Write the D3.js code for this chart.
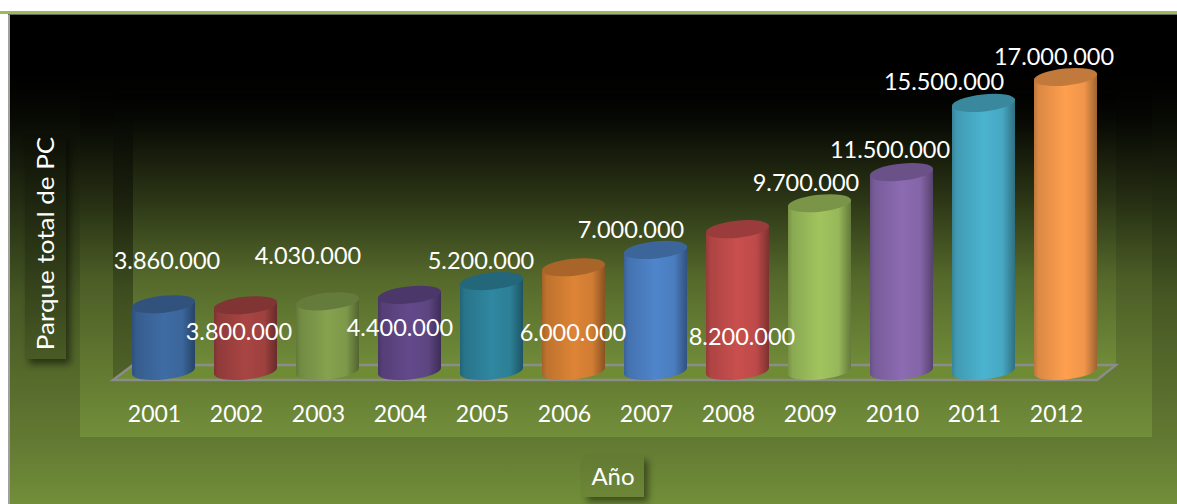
<!DOCTYPE html>
<html>
<head>
<meta charset="utf-8">
<style>
html,body{margin:0;padding:0;background:#fff;}
svg{display:block;}
text{font-family:Lato,"Noto Sans",sans-serif;fill:#fff;}
</style>
<script src="https://cdn.jsdelivr.net/npm/d3@7"></script>
</head>
<body>
<svg id="chart" width="1177" height="504"></svg>
<script>
// Parque total de PC por año
const years = ["2001","2002","2003","2004","2005","2006","2007","2008","2009","2010","2011","2012"];
const parque = [3860000,3800000,4030000,4400000,5200000,6000000,7000000,8200000,9700000,11500000,15500000,17000000];
const paleta = ["#3f6ca5","#a84543","#85a24e","#63498a","#2f87a0","#dd8436","#4f85cb","#c94f4e","#a1c45f","#8c6bb2","#4bb3cf","#ff9f4f"];
const rotuloX = [167,239,308,400,481,573,631,742,806,890,944,1054];
const rotuloY = [269,340,264,336,269,341,238,345,191,158,90,65];

const W = 1177, H = 504;
const plot = {left:80, right:1152, top:85, bottom:437};
const pared = {left:133, right:1116, top:95, bottom:365};
const baseY = 371, rx = 31.5, ry = 8.5, giro = -6;
const dy = rx * Math.sin(-giro * Math.PI / 180);

const svg = d3.select("#chart");
const defs = svg.append("defs");

// Degradados verticales a partir de un único verde, con la oscuridad por tramos
const verde = d3.rgb("#76923c");
function vGrad(id, stops){
  const g = defs.append("linearGradient").attr("id",id).attr("x1",0).attr("x2",0).attr("y1",0).attr("y2",1);
  stops.forEach(([o,k]) => g.append("stop").attr("offset",o)
    .attr("stop-color",d3.rgb(verde.r*k,verde.g*k,verde.b*k).formatHex()));
}
vGrad("fondo",[[0,0],[0.12,0],[0.215,0.07],[0.378,0.3],[0.583,0.6],[0.869,0.83],[1,0.97]]);
vGrad("panel",[[0,0.01],[0.1,0.05],[0.33,0.32],[0.55,0.64],[1,0.97]]);
vGrad("muro",[[0,0.01],[0.1,0.07],[0.39,0.37],[0.68,0.72],[1,0.95]]);
vGrad("lateral",[[0,0.01],[0.39,0.24],[0.68,0.52],[1,0.68]]);
vGrad("cajaY",[[0,0.1],[1,0.62]]);
vGrad("cajaX",[[0,0.84],[1,0.92]]);

const sombra = defs.append("filter").attr("id","sombra").attr("x","-30%").attr("y","-30%").attr("width","160%").attr("height","160%");
sombra.append("feGaussianBlur").attr("stdDeviation",3.5);

// Cuerpo cilíndrico: sombreado horizontal de cada color
paleta.forEach((c,i) => {
  const base = d3.rgb(c);
  const g = defs.append("linearGradient").attr("id","cil"+i).attr("x1",0).attr("x2",1).attr("y1",0).attr("y2",0);
  [[0,0.74],[0.07,0.86],[0.5,1],[0.8,0.94],[1,0.62]].forEach(([o,k]) => {
    g.append("stop").attr("offset",o).attr("stop-color",d3.rgb(base.r*k,base.g*k,base.b*k).formatHex());
  });
});

// Filete superior, borde izquierdo y fondo
svg.append("rect").attr("x",0).attr("y",11).attr("width",W).attr("height",3).attr("fill","#9bbb59");
svg.append("rect").attr("x",8).attr("y",14).attr("width",W-8).attr("height",1).attr("fill","#666");
svg.append("rect").attr("x",8).attr("y",15).attr("width",2).attr("height",H-15).attr("fill","#a0a0a0");
svg.append("rect").attr("x",10).attr("y",15).attr("width",W-10).attr("height",H-15).attr("fill","url(#fondo)");

// Área de trazado
svg.append("rect").attr("x",plot.left).attr("y",plot.top).attr("width",plot.right-plot.left).attr("height",plot.bottom-plot.top).attr("fill","url(#panel)");

// Paredes y suelo
svg.append("rect").attr("x",pared.left).attr("y",pared.top).attr("width",pared.right-pared.left).attr("height",pared.bottom-pared.top).attr("fill","url(#muro)");
svg.append("path").attr("d",`M113,380 L${pared.left},${pared.bottom} V${pared.top} H113 Z`).attr("fill","url(#lateral)");
svg.append("path").attr("d",`M113,380 L${pared.left},${pared.bottom} H${pared.right} L1097,380 Z`)
  .attr("fill","#6f8c35").attr("stroke","#8c8c8c").attr("stroke-width",2.4);

const x = d3.scaleBand().domain(years).range([122.5,1106.5]).paddingInner(0.2317).paddingOuter(0.1159);
const y = d3.scaleLinear().domain([0,17000000]).range([baseY,77]);

const cil = svg.append("g").selectAll("g").data(years).join("g");
cil.each(function(d,i){
  const sel = d3.select(this);
  const x0 = x(d), x1 = x0 + x.bandwidth(), cx = (x0+x1)/2;
  const top = y(parque[i]);
  const c = d3.rgb(paleta[i]);
  sel.append("path")
    .attr("d",`M${x0},${top+dy} L${x0},${baseY+dy} A${rx},${ry} ${giro} 0 0 ${x1},${baseY-dy} L${x1},${top-dy} Z`)
    .attr("fill",`url(#cil${i})`);
  sel.append("ellipse")
    .attr("cx",cx).attr("cy",top).attr("rx",rx+0.3).attr("ry",ry)
    .attr("transform",`rotate(${giro},${cx},${top})`)
    .attr("fill",d3.rgb(c.r*0.76,c.g*0.76,c.b*0.76).formatHex());
});

// Rótulos de valor
const miles = v => d3.format(",")(v).replace(/,/g,".");
svg.append("g").selectAll("text").data(parque).join("text")
  .attr("x",(d,i)=>rotuloX[i]).attr("y",(d,i)=>rotuloY[i])
  .attr("text-anchor","middle").attr("font-size",23.5).text(miles);

// Eje de años
svg.append("g").selectAll("text").data(years).join("text")
  .attr("x",d=>x(d)+x.bandwidth()/2-9).attr("y",422)
  .attr("text-anchor","middle").attr("font-size",23).text(d=>d);

// Títulos de los ejes
svg.append("rect").attr("x",29).attr("y",141).attr("width",41).attr("height",223).attr("fill","#000").attr("opacity",0.5).attr("filter","url(#sombra)");
svg.append("rect").attr("x",25).attr("y",135).attr("width",41).attr("height",224).attr("fill","url(#cajaY)");
svg.append("text").attr("transform","translate(53.5,243.5) rotate(-90) scale(1.085,1)").attr("text-anchor","middle").attr("font-size",24).text("Parque total de PC");

svg.append("rect").attr("x",587).attr("y",460).attr("width",61).attr("height",42).attr("fill","#000").attr("opacity",0.45).attr("filter","url(#sombra)");
svg.append("rect").attr("x",583).attr("y",455).attr("width",61).attr("height",42).attr("fill","url(#cajaX)");
svg.append("text").attr("x",613).attr("y",485).attr("text-anchor","middle").attr("font-size",24).text("Año");
</script>
</body>
</html>
